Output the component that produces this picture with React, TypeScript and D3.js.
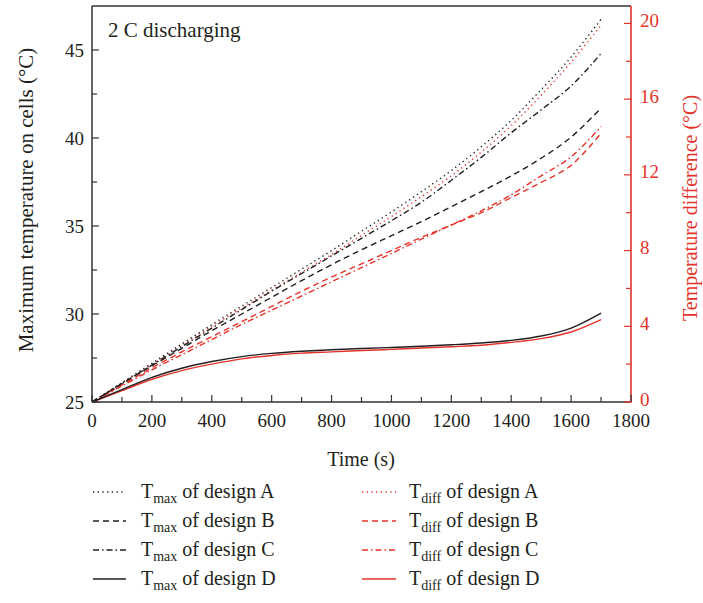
import React from "react";
import * as d3 from "d3";

const times = [0, 100, 200, 300, 400, 500, 600, 700, 800, 900, 1000, 1100, 1200, 1300, 1400, 1500, 1600, 1700];
const tmaxA = [25, 26.1, 27.2, 28.3, 29.4, 30.45, 31.5, 32.55, 33.6, 34.7, 35.8, 36.95, 38.15, 39.5, 41.0, 42.75, 44.6, 46.75];
const tmaxB = [25, 26.05, 27.05, 28.05, 29.05, 30.0, 30.95, 31.9, 32.8, 33.65, 34.45, 35.25, 36.1, 36.95, 37.85, 38.85, 40.05, 41.7];
const tmaxC = [25, 26.05, 27.1, 28.15, 29.2, 30.25, 31.3, 32.3, 33.3, 34.3, 35.3, 36.35, 37.6, 38.9, 40.3, 41.6, 42.95, 44.8];
const tmaxD = [25, 25.7, 26.4, 26.92, 27.3, 27.58, 27.76, 27.88, 27.97, 28.04, 28.1, 28.17, 28.25, 28.35, 28.5, 28.75, 29.2, 30.05];
const tdiffA = [0, 1.0, 2.0, 3.0, 4.0, 4.95, 5.9, 6.85, 7.8, 8.8, 9.8, 10.85, 11.95, 13.2, 14.6, 16.2, 17.95, 19.9];
const tdiffB = [0, 0.9, 1.8, 2.65, 3.45, 4.25, 5.05, 5.85, 6.6, 7.3, 8.0, 8.7, 9.35, 10.0, 10.8, 11.6, 12.5, 14.2];
const tdiffC = [0, 0.85, 1.7, 2.5, 3.3, 4.1, 4.85, 5.6, 6.35, 7.1, 7.85, 8.6, 9.35, 10.1, 10.95, 11.95, 12.95, 14.55];
const tdiffD = [0, 0.6, 1.2, 1.66, 2.0, 2.28, 2.46, 2.58, 2.65, 2.72, 2.78, 2.85, 2.92, 3.0, 3.15, 3.35, 3.7, 4.35];

const xTicks = [0, 200, 400, 600, 800, 1000, 1200, 1400, 1600, 1800];
const yLeftTicks = [25, 30, 35, 40, 45];
const yRightTicks = [0, 4, 8, 12, 16, 20];
const designs = ["A", "B", "C", "D"];

const BLACK = "#231f20";
const RED = "#e5332a";
const FONT = "'Liberation Serif', 'Times New Roman', serif";

const dashes: Record<string, string | undefined> = {
  A: "1.3 3.4",
  B: "6 4",
  C: "6 3 1.5 3",
  D: undefined,
};

export default function App() {
  const W = 703, H = 603;
  const L = 92, R = 631, T = 6, B = 402;
  const x = d3.scaleLinear().domain([0, 1800]).range([L, R]);
  const yL = d3.scaleLinear().domain([25, 47.5]).range([B, T]);
  const yR = d3.scaleLinear().domain([0, 20.92]).range([B, T]);

  const lineL = d3.line<number>().x((_, i) => x(times[i])).y((v) => yL(v)).curve(d3.curveCatmullRom.alpha(0.5));
  const lineR = d3.line<number>().x((_, i) => x(times[i])).y((v) => yR(v)).curve(d3.curveCatmullRom.alpha(0.5));

  const tmaxSeries = [tmaxA, tmaxB, tmaxC, tmaxD];
  const tdiffSeries = [tdiffA, tdiffB, tdiffC, tdiffD];

  const xMinor = d3.range(0, 1801, 100);
  const yLMinor = d3.range(25, 47.5, 2.5);
  const yRMinor = d3.range(0, 21, 2);

  const legendRows = [498, 527, 556, 585];

  return (
    <svg width={W} height={H} style={{ position: "absolute", left: 0, top: 0, background: "#fff" }} fontFamily={FONT}>
      {tdiffSeries.map((s, i) => (
        <path key={"r" + i} d={lineR(s) || ""} fill="none" stroke={RED} strokeWidth={1.4} strokeDasharray={dashes[designs[i]]} />
      ))}
      {tmaxSeries.map((s, i) => (
        <path key={"b" + i} d={lineL(s) || ""} fill="none" stroke={BLACK} strokeWidth={1.4} strokeDasharray={dashes[designs[i]]} />
      ))}

      <line x1={L} x2={R} y1={T} y2={T} stroke="#333" strokeWidth={1.5} />
      <line x1={L} x2={L} y1={T} y2={B} stroke="#333" strokeWidth={1.5} />
      <line x1={L} x2={R} y1={B} y2={B} stroke="#333" strokeWidth={1.5} />
      <line x1={R} x2={R} y1={T} y2={B + 0.75} stroke={RED} strokeWidth={1.6} />

      {xMinor.map((t) => (
        <line key={"xm" + t} x1={x(t)} x2={x(t)} y1={B} y2={B - (t % 200 === 0 ? 7 : 5)} stroke="#333" strokeWidth={1.2} />
      ))}
      {xTicks.map((t) => (
        <text key={"xt" + t} x={x(t)} y={427} textAnchor="middle" fontSize={19} fill={BLACK}>{t}</text>
      ))}

      {yLMinor.map((v) => (
        <line key={"ylm" + v} x1={L} x2={L + (v % 5 === 0 ? 7 : 5)} y1={yL(v)} y2={yL(v)} stroke="#333" strokeWidth={1.2} />
      ))}
      {yLeftTicks.map((v) => (
        <text key={"ylt" + v} x={84} y={yL(v)} dy="0.35em" textAnchor="end" fontSize={19} fill={BLACK}>{v}</text>
      ))}

      {yRMinor.map((v) => (
        <line key={"yrm" + v} x1={R} x2={R - (v % 4 === 0 ? 7 : 5)} y1={yR(v)} y2={yR(v)} stroke={RED} strokeWidth={1.2} />
      ))}
      {yRightTicks.map((v) => (
        <text key={"yrt" + v} x={640} y={yR(v) - 3} dy="0.35em" textAnchor="start" fontSize={19} fill={RED}>{v}</text>
      ))}

      <text x={361} y={466} textAnchor="middle" fontSize={20} fill={BLACK}>Time (s)</text>
      <text transform={`translate(33,200) rotate(-90)`} textAnchor="middle" fontSize={21} fill={BLACK}>Maximum temperature on cells (°C)</text>
      <text transform={`translate(697,208) rotate(-90)`} textAnchor="middle" fontSize={20} fill={RED}>Temperature difference (°C)</text>
      <text x={108} y={37} fontSize={21} fill={BLACK}>2 C discharging</text>

      {designs.map((d, i) => (
        <g key={"lg" + d}>
          <line x1={93} x2={126} y1={legendRows[i] - 6} y2={legendRows[i] - 6} stroke={BLACK} strokeWidth={1.4} strokeDasharray={dashes[d]} />
          <text x={141} y={legendRows[i]} fontSize={20} fill={BLACK}>
            T<tspan fontSize={14} dy={5}>max</tspan><tspan dy={-5}> of design {d}</tspan>
          </text>
          <line x1={362} x2={396} y1={legendRows[i] - 6} y2={legendRows[i] - 6} stroke={RED} strokeWidth={1.4} strokeDasharray={dashes[d]} />
          <text x={409} y={legendRows[i]} fontSize={20} fill={BLACK}>
            T<tspan fontSize={14} dy={5}>diff</tspan><tspan dy={-5}> of design {d}</tspan>
          </text>
        </g>
      ))}
    </svg>
  );
}
